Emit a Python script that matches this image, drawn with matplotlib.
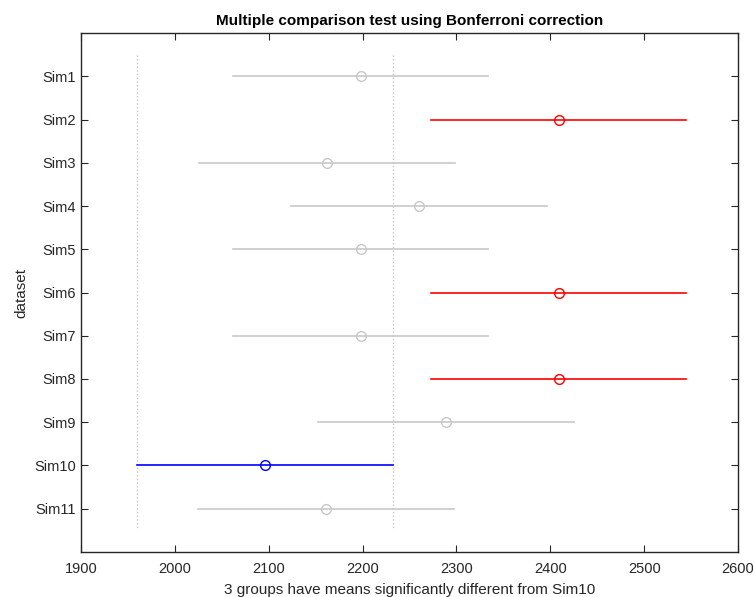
import numpy as np
import matplotlib
matplotlib.use("Agg")
import matplotlib.pyplot as plt

plt.rcParams['font.family'] = ['Liberation Sans', 'DejaVu Sans']

groups = ['Sim1', 'Sim2', 'Sim3', 'Sim4', 'Sim5', 'Sim6', 'Sim7', 'Sim8', 'Sim9', 'Sim10', 'Sim11']
means = [2198, 2409, 2162, 2260, 2198, 2409, 2198, 2409, 2289, 2096, 2161]
half_width = 136
selected = 'Sim10'
different = ['Sim2', 'Sim6', 'Sim8']

fig = plt.figure(figsize=(7.54, 5.97), dpi=100)
ax = fig.add_axes([0.1074, 0.0754, 0.8714, 0.8693])

y = np.arange(1, len(groups) + 1)
sel_mean = means[groups.index(selected)]

# reference interval of the selected group
for xv in (sel_mean - half_width, sel_mean + half_width):
    ax.plot([xv, xv], [0.5, len(groups) + 0.5], ls=':', color='#c8c8c8', lw=1)

for g, m, yy in zip(groups, means, y):
    if g == selected:
        c = '#0000ff'
    elif g in different:
        c = '#ff0000'
    else:
        c = '#c8c8c8'
    ax.plot([m - half_width, m + half_width], [yy, yy], color=c, lw=1.2)
    ax.plot(m, yy, 'o', mfc='none', mec=c, ms=7, mew=1)

ax.set_xlim(1900, 2600)
ax.set_ylim(len(groups) + 1, 0)
ax.set_yticks(y)
ax.set_yticklabels(groups)
ax.set_xticks(np.arange(1900, 2601, 100))
ax.tick_params(direction='in', top=True, right=True, labelsize=10.5, colors='#262626', length=5)
ax.tick_params(axis='x', pad=7)
for s in ax.spines.values():
    s.set_color('#262626')
    s.set_linewidth(1)

ax.set_title('Multiple comparison test using Bonferroni correction', fontsize=11, fontweight='bold', pad=6)
ax.set_xlabel('3 groups have means significantly different from Sim10', fontsize=11, color='#262626', labelpad=5)
ax.set_ylabel('dataset', fontsize=11, color='#262626')

fig.savefig('out.png', dpi=100)
